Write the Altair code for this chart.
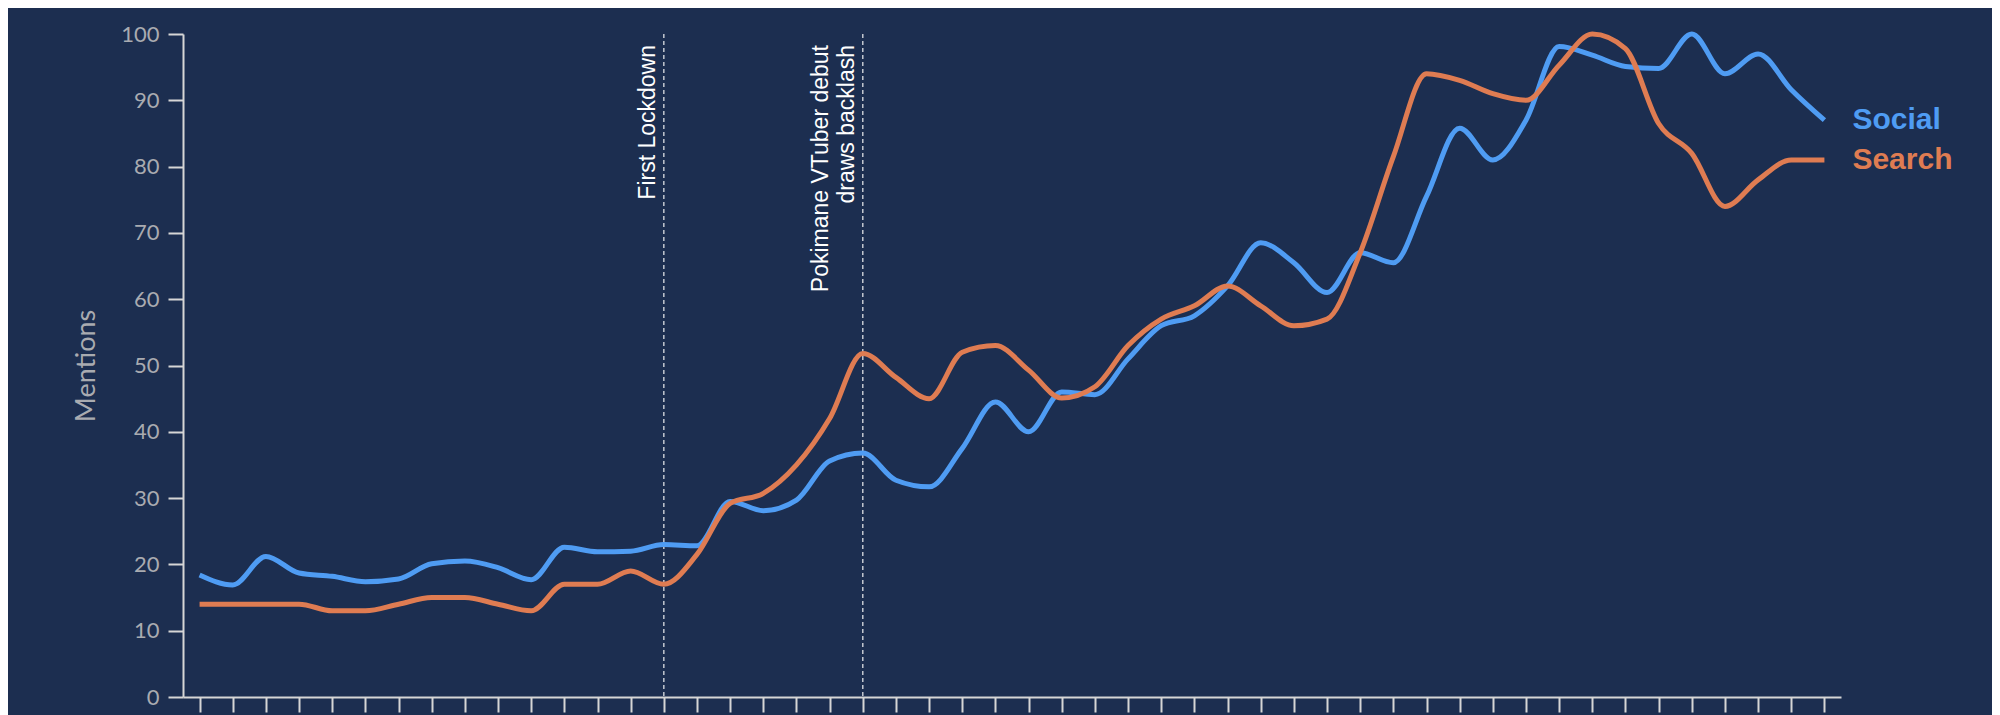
import altair as alt
import pandas as pd

MON = ["Jan", "Feb", "Mar", "Apr", "May", "Jun", "Jul", "Aug", "Sep", "Oct", "Nov", "Dec"]
months = [f"{MON[i % 12]} {2019 + i // 12}" for i in range(50)]

social = [18.4, 16.9, 21.2, 18.7, 18.2, 17.4, 17.8, 20.1, 20.5, 19.5,
          17.7, 22.6, 21.9, 22.0, 23.0, 22.8, 29.5, 28.1, 29.7, 35.6,
          36.8, 32.7, 31.7, 37.5, 44.5, 40.0, 46.0, 45.6, 51.0, 56.0,
          57.5, 62.0, 68.5, 65.5, 61.0, 67.0, 65.5, 75.5, 85.8, 81.0,
          87.0, 98.1, 96.8, 95.1, 94.8, 100.0, 94.0, 97.0, 91.6, 87.0]
search = [14, 14, 14, 14, 13, 13, 14, 15, 15, 14,
          13, 17, 17, 19, 17, 21.5, 29.2, 30.7, 35, 42,
          51.8, 48.2, 45, 52, 53, 49.3, 45.1, 46.8, 53, 57,
          59, 62, 59, 56, 57, 67, 81.5, 94, 93, 91,
          90, 95.3, 100, 97.8, 86.5, 82, 74, 78, 81, 81]

series_names = ["Social", "Search"]
event_months = ["Mar 2020", "Sep 2020"]
event_labels = ["First Lockdown", "Pokimane VTuber debut\ndraws backlash"]
event_lines = [1, 2]

BG = "#1c2e50"
BLUE = "#4f9cf3"
ORANGE = "#df7c52"
AXIS = "#d6d6d6"
GREY = "#a9abb0"

df = pd.DataFrame({
    "month": months * 2,
    "series": ["Social"] * len(months) + ["Search"] * len(months),
    "value": social + search,
})
last = df[df["month"] == months[-1]]
ev = pd.DataFrame({"month": event_months, "label": event_labels,
                   "lines": event_lines, "top": [100, 100]})

even_labels = months[::2]
label_expr = "indexof(" + str(even_labels).replace("'", '"') + ", datum.value) >= 0 ? datum.value : ''"

x_enc = alt.X(
    "month:O", sort=months,
    scale=alt.Scale(type="point", padding=0.5),
    axis=alt.Axis(title=None, labelAngle=-90, labelExpr=label_expr, labelFontSize=22,
                  labelColor=GREY, labelFont="Lato", tickSize=15, tickWidth=2,
                  tickColor=AXIS, domainColor=AXIS, domainWidth=2, labelPadding=4,
                  grid=False),
)
y_enc = alt.Y(
    "value:Q",
    scale=alt.Scale(domain=[0, 100], nice=False),
    axis=alt.Axis(title="Mentions", values=list(range(0, 101, 10)), labelFontSize=22,
                  labelColor=GREY, labelFont="Lato", titleFont="Lato", titleFontSize=27,
                  titleFontWeight="normal", titleColor=GREY, titlePadding=20,
                  tickSize=15, tickWidth=2, tickColor=AXIS, domainColor=AXIS,
                  domainWidth=2, labelPadding=9, grid=False),
)
color_enc = alt.Color("series:N", scale=alt.Scale(domain=series_names, range=[BLUE, ORANGE]),
                      legend=None)

lines = alt.Chart(df).mark_line(interpolate="monotone", strokeWidth=5).encode(
    x=x_enc, y=y_enc, color=color_enc)

labels = alt.Chart(last).mark_text(align="left", baseline="middle", dx=28, fontSize=30,
                                   fontWeight="bold", font="Liberation Sans").encode(
    x=alt.X("month:O", sort=months), y="value:Q", color=color_enc, text="series:N")

rules = alt.Chart(ev).mark_rule(color="#c4c8d0", strokeWidth=1.5, strokeDash=[4, 3]).encode(
    x=alt.X("month:O", sort=months))

ann_style = dict(angle=270, align="right", baseline="alphabetic", dx=-11, fontSize=23,
                 lineHeight=26, lineBreak="\n", color="white", font="Liberation Sans")

ann1 = alt.Chart(ev).transform_filter("datum.lines == 1").mark_text(dy=-9, **ann_style).encode(
    x=alt.X("month:O", sort=months), y=alt.Y("top:Q"), text="label:N")
ann2 = alt.Chart(ev).transform_filter("datum.lines == 2").mark_text(dy=-35, **ann_style).encode(
    x=alt.X("month:O", sort=months), y=alt.Y("top:Q"), text="label:N")

chart = alt.layer(rules, lines, labels, ann1, ann2).properties(
    width=1658, height=663,
    autosize=alt.AutoSizeParams(type="none"),
    padding={"left": 175, "top": 26, "right": 151, "bottom": 120},
    background=BG,
    usermeta={"embedOptions": {"defaultStyle": "body{background:#1c2e50;}"}},
).configure_view(stroke=None)

chart.save("out.html", embed_options={"renderer": "svg", "actions": False})
